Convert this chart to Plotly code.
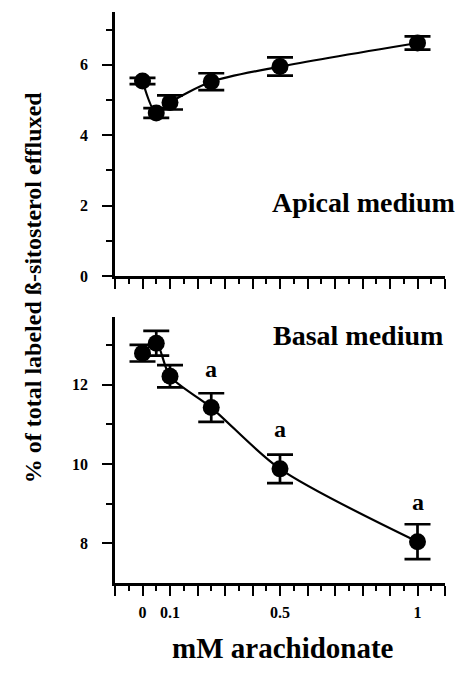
import plotly.graph_objects as go

conc = [0, 0.05, 0.1, 0.25, 0.5, 1.0]
apical = [5.54, 4.63, 4.93, 5.52, 5.95, 6.62]
apical_err = [0.09, 0.14, 0.20, 0.24, 0.26, 0.19]
basal = [12.79, 13.04, 12.21, 11.42, 9.875, 8.04]
basal_err = [0.21, 0.31, 0.28, 0.36, 0.36, 0.44]
sig_x = [0.25, 0.5, 1.0]
sig_y = [12.40, 10.88, 9.04]
sig_text = ["a", "a", "a"]

xtick_vals = [round(-0.1 + 0.1 * i, 2) for i in range(13)]
xtick_labels = {0.0: "0", 0.1: "0.1", 0.5: "0.5", 1.0: "1"}
xtick_text = [xtick_labels.get(v, "") for v in xtick_vals]

FONT = "Liberation Serif, Times New Roman, serif"

fig = go.Figure()

for y, e, xa, ya in [(apical, apical_err, "x", "y"), (basal, basal_err, "x2", "y2")]:
    fig.add_trace(go.Scatter(
        x=conc, y=y, xaxis=xa, yaxis=ya, mode="lines+markers",
        line=dict(color="black", width=2.2, shape="spline", smoothing=0.8),
        marker=dict(color="black", size=17),
        error_y=dict(type="data", array=e, color="black", thickness=2.7, width=13),
        showlegend=False, cliponaxis=False,
    ))

xcommon = dict(range=[-0.1, 1.1], showline=True, linecolor="black", linewidth=2.5,
               showgrid=False, zeroline=False, ticks="outside", ticklen=10, tickwidth=2,
               tickcolor="black", tickmode="array", tickvals=xtick_vals,
               minor=dict(tickmode="linear", tick0=0.05, dtick=0.1, ticks="outside",
                          ticklen=5, tickwidth=1.5, tickcolor="black"),
               tickfont=dict(family=FONT, size=16, color="black", weight="bold"))

ycommon = dict(showline=True, linecolor="black", linewidth=2.5, showgrid=False,
               zeroline=False, ticks="outside", ticklen=10, tickwidth=2, tickcolor="black",
               tickfont=dict(family=FONT, size=16, color="black", weight="bold"),
               ticklabelstandoff=11)

fig.update_layout(
    width=459, height=675,
    margin=dict(l=115, r=14, t=12, b=92),
    paper_bgcolor="white", plot_bgcolor="white",
    xaxis=dict(**xcommon, ticktext=[""] * len(xtick_vals), anchor="y"),
    xaxis2=dict(**xcommon, ticktext=xtick_text, anchor="y2", ticklabelstandoff=3),
    yaxis=dict(**ycommon, domain=[0.5377, 1.0], range=[0, 7.5], anchor="x",
               tickmode="array", tickvals=[0, 2, 4, 6],
               minor=dict(tickmode="array", tickvals=[1, 3, 5, 7], ticks="outside",
                          ticklen=6, tickwidth=1.5, tickcolor="black")),
    yaxis2=dict(**ycommon, domain=[0.0, 0.4658], range=[7, 13.7], anchor="x2",
                tickmode="array", tickvals=[8, 10, 12],
                minor=dict(tickmode="array", tickvals=[9, 11, 13], ticks="outside",
                           ticklen=6, tickwidth=1.5, tickcolor="black")),
)

ann = []
ann.append(dict(text="Apical medium", xref="paper", yref="paper", x=1.036, y=0.6655,
                xanchor="right", yanchor="middle", showarrow=False,
                font=dict(family=FONT, size=28, color="black", weight="bold")))
ann.append(dict(text="Basal medium", xref="paper", yref="paper", x=1.0, y=0.434,
                xanchor="right", yanchor="middle", showarrow=False,
                font=dict(family=FONT, size=28, color="black", weight="bold")))
for sx, sy, st in zip(sig_x, sig_y, sig_text):
    ann.append(dict(text=st, xref="x2", yref="y2", x=sx, y=sy, showarrow=False,
                    xanchor="center", yanchor="middle",
                    font=dict(family=FONT, size=24, color="black", weight="bold")))
ann.append(dict(text="% of total labeled ß-sitosterol effluxed", xref="paper", yref="paper",
                x=-0.2485, y=0.518, textangle=-90, showarrow=False,
                xanchor="center", yanchor="middle",
                font=dict(family=FONT, size=24, color="black", weight="bold")))
ann.append(dict(text="mM arachidonate", xref="paper", yref="paper", x=0.5076, y=-0.1138,
                showarrow=False, xanchor="center", yanchor="middle",
                font=dict(family=FONT, size=29, color="black", weight="bold")))
fig.update_layout(annotations=ann)

fig.write_html("out.html", config={"displayModeBar": False},
               post_script="document.body.style.margin='0';document.body.style.padding='0';")
